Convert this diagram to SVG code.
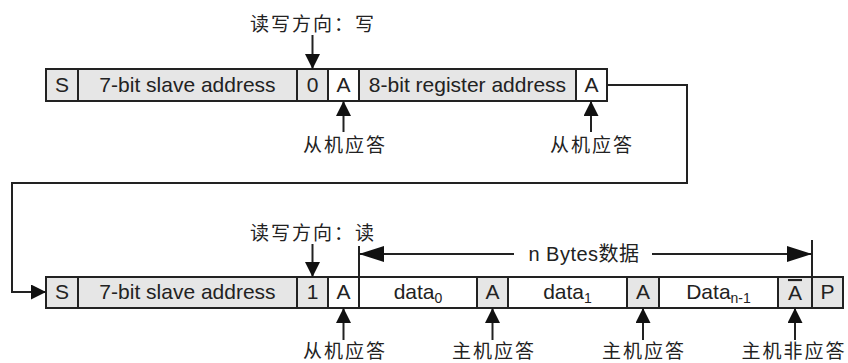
<svg xmlns="http://www.w3.org/2000/svg" width="848" height="363" viewBox="0 0 848 363">
<defs>
<style>
.g{fill:#e6e6e6;stroke:#222;stroke-width:2}
.w{fill:#fff;stroke:#222;stroke-width:2}
.t{font-family:"Liberation Sans",Arial,sans-serif;font-size:21px;fill:#222;text-anchor:middle}
.c{font-family:"Noto Sans CJK SC","Noto Sans",sans-serif;font-size:19px;letter-spacing:2px;fill:#222;text-anchor:middle}
.ln{fill:none;stroke:#222;stroke-width:2}
</style>
<marker id="ah" markerUnits="userSpaceOnUse" markerWidth="15" markerHeight="15" refX="15" refY="7.5" orient="auto" viewBox="0 0 15 15">
<path d="M0,0 L15,7.5 L0,15 z" fill="#111"/>
</marker>
<marker id="bh" markerUnits="userSpaceOnUse" markerWidth="25" markerHeight="16" refX="25" refY="8" orient="auto" viewBox="0 0 25 16">
<path d="M0,0 L25,8 L0,16 z" fill="#111"/>
</marker>
</defs>
<rect width="848" height="363" fill="#fff"/>

<g id="row1">
<g id="r1-S"><rect class="g" x="46" y="69" width="32" height="32"/><text class="t" x="62" y="92">S</text></g>
<g id="r1-addr"><rect class="g" x="78" y="69" width="219" height="32"/><text class="t" x="187.5" y="92">7-bit slave address</text></g>
<g id="r1-rw"><rect class="g" x="297" y="69" width="31" height="32"/><text class="t" x="312.5" y="92">0</text></g>
<g id="r1-A1"><rect class="w" x="328" y="69" width="31" height="32"/><text class="t" x="343.5" y="92">A</text></g>
<g id="r1-reg"><rect class="g" x="359" y="69" width="217" height="32"/><text class="t" x="467.5" y="92">8-bit register address</text></g>
<g id="r1-A2"><rect class="w" x="576" y="69" width="31" height="32"/><text class="t" x="591.5" y="92">A</text></g>
</g>

<g id="row2">
<g id="r2-S"><rect class="g" x="46" y="277" width="32" height="31"/><text class="t" x="62" y="299">S</text></g>
<g id="r2-addr"><rect class="g" x="78" y="277" width="219" height="31"/><text class="t" x="187.5" y="299">7-bit slave address</text></g>
<g id="r2-rw"><rect class="g" x="297" y="277" width="31" height="31"/><text class="t" x="312.5" y="299">1</text></g>
<g id="r2-A1"><rect class="w" x="328" y="277" width="31" height="31"/><text class="t" x="343.5" y="299">A</text></g>
<g id="r2-d0"><rect class="w" x="359" y="277" width="118" height="31"/><text class="t" x="418" y="299">data<tspan font-size="14" dy="4">0</tspan></text></g>
<g id="r2-A2"><rect class="g" x="477" y="277" width="31" height="31"/><text class="t" x="492.5" y="299">A</text></g>
<g id="r2-d1"><rect class="w" x="508" y="277" width="119" height="31"/><text class="t" x="567.5" y="299">data<tspan font-size="14" dy="4">1</tspan></text></g>
<g id="r2-A3"><rect class="g" x="627" y="277" width="32" height="31"/><text class="t" x="643" y="299">A</text></g>
<g id="r2-dn"><rect class="w" x="659" y="277" width="119" height="31"/><text class="t" x="718.5" y="299">Data<tspan font-size="14" dy="4">n-1</tspan></text></g>
<g id="r2-NA"><rect class="g" x="778" y="277" width="34" height="31"/><text class="t" x="795" y="300" text-decoration="overline">A</text></g>
<g id="r2-P"><rect class="g" x="812" y="277" width="31" height="31"/><text class="t" x="827.5" y="299">P</text></g>
</g>

<g id="labels">
<text class="c" x="313" y="31">读写方向：写</text>
<text class="c" x="345" y="152">从机应答</text>
<text class="c" x="592" y="152">从机应答</text>
<text class="c" x="313" y="240">读写方向：读</text>
<text class="c" x="345" y="358">从机应答</text>
<text class="c" x="494" y="358">主机应答</text>
<text class="c" x="644" y="358">主机应答</text>
<text class="c" x="794" y="358">主机非应答</text>
<text x="584" y="261" font-family="'Liberation Sans',Arial,'Noto Sans CJK SC',sans-serif" font-size="20" fill="#222" text-anchor="middle" letter-spacing="0.5">n Bytes数据</text>
</g>

<g id="connectors">
<line class="ln" x1="312.5" y1="35" x2="312.5" y2="69" marker-end="url(#ah)"/>
<line class="ln" x1="343.5" y1="132" x2="343.5" y2="101" marker-end="url(#ah)"/>
<line class="ln" x1="591" y1="132" x2="591" y2="101" marker-end="url(#ah)"/>
<path class="ln" d="M607,85 H687 V183 H12 V292 H46" marker-end="url(#ah)"/>
<line class="ln" x1="312.5" y1="244" x2="312.5" y2="277" marker-end="url(#ah)"/>
<line class="ln" x1="343.5" y1="340" x2="343.5" y2="308" marker-end="url(#ah)"/>
<line class="ln" x1="492.5" y1="340" x2="492.5" y2="308" marker-end="url(#ah)"/>
<line class="ln" x1="643" y1="340" x2="643" y2="308" marker-end="url(#ah)"/>
<line class="ln" x1="795" y1="340" x2="795" y2="308" marker-end="url(#ah)"/>
<line class="ln" x1="359" y1="246" x2="359" y2="277"/>
<line class="ln" x1="812" y1="240" x2="812" y2="277"/>
<line class="ln" x1="514" y1="254" x2="359" y2="254" marker-end="url(#bh)"/>
<line class="ln" x1="652" y1="254" x2="812" y2="254" marker-end="url(#bh)"/>
</g>
</svg>
